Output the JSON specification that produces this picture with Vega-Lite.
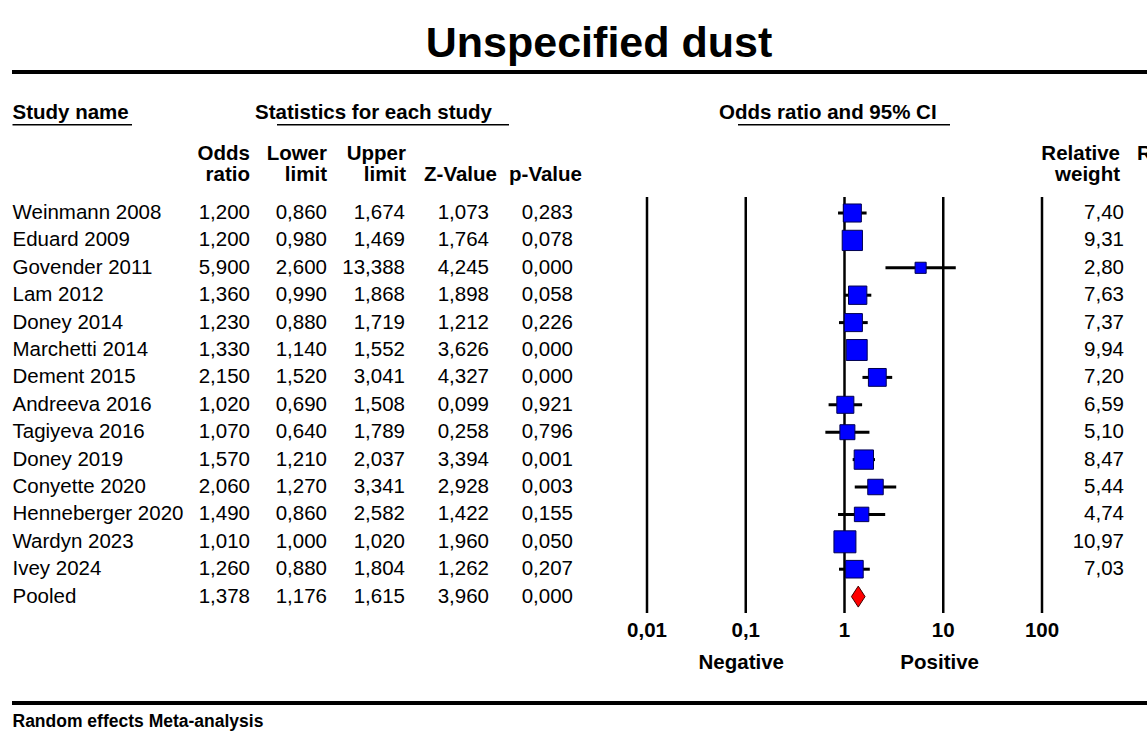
{
  "$schema": "https://vega.github.io/schema/vega-lite/v6.json",
  "width": 1147,
  "height": 731,
  "autosize": {"type": "none"},
  "padding": 0,
  "background": "white",
  "config": {
    "view": {"stroke": null},
    "locale": {"number": {"decimal": ",", "thousands": ".", "grouping": [3], "currency": ["", ""]}},
    "text": {"font": "Liberation Sans", "fontSize": 20.5, "color": "black"}
  },
  "datasets": {
    "studies": [
      {"study": "Weinmann 2008", "or": 1.200, "lo": 0.860, "hi": 1.674, "z": 1.073, "p": 0.283, "w": 7.40},
      {"study": "Eduard 2009", "or": 1.200, "lo": 0.980, "hi": 1.469, "z": 1.764, "p": 0.078, "w": 9.31},
      {"study": "Govender 2011", "or": 5.900, "lo": 2.600, "hi": 13.388, "z": 4.245, "p": 0.000, "w": 2.80},
      {"study": "Lam 2012", "or": 1.360, "lo": 0.990, "hi": 1.868, "z": 1.898, "p": 0.058, "w": 7.63},
      {"study": "Doney 2014", "or": 1.230, "lo": 0.880, "hi": 1.719, "z": 1.212, "p": 0.226, "w": 7.37},
      {"study": "Marchetti 2014", "or": 1.330, "lo": 1.140, "hi": 1.552, "z": 3.626, "p": 0.000, "w": 9.94},
      {"study": "Dement 2015", "or": 2.150, "lo": 1.520, "hi": 3.041, "z": 4.327, "p": 0.000, "w": 7.20},
      {"study": "Andreeva 2016", "or": 1.020, "lo": 0.690, "hi": 1.508, "z": 0.099, "p": 0.921, "w": 6.59},
      {"study": "Tagiyeva 2016", "or": 1.070, "lo": 0.640, "hi": 1.789, "z": 0.258, "p": 0.796, "w": 5.10},
      {"study": "Doney 2019", "or": 1.570, "lo": 1.210, "hi": 2.037, "z": 3.394, "p": 0.001, "w": 8.47},
      {"study": "Conyette 2020", "or": 2.060, "lo": 1.270, "hi": 3.341, "z": 2.928, "p": 0.003, "w": 5.44},
      {"study": "Henneberger 2020", "or": 1.490, "lo": 0.860, "hi": 2.582, "z": 1.422, "p": 0.155, "w": 4.74},
      {"study": "Wardyn 2023", "or": 1.010, "lo": 1.000, "hi": 1.020, "z": 1.960, "p": 0.050, "w": 10.97},
      {"study": "Ivey 2024", "or": 1.260, "lo": 0.880, "hi": 1.804, "z": 1.262, "p": 0.207, "w": 7.03},
      {"study": "Pooled", "or": 1.378, "lo": 1.176, "hi": 1.615, "z": 3.960, "p": 0.000, "w": null}
    ],
    "ticks": [{"v": 0.01}, {"v": 0.1}, {"v": 1}, {"v": 10}, {"v": 100}],
    "one": [{}]
  },
  "layer": [
    {
      "data": {"name": "ticks"},
      "mark": {"type": "rule", "strokeWidth": 2.5, "color": "black"},
      "encoding": {
        "x": {"field": "v", "type": "quantitative", "scale": {"type": "log", "domain": [0.01, 100], "range": [647, 1042]}, "axis": null},
        "y": {"datum": 0.416, "type": "quantitative", "scale": {"domain": [-6.774, 19.905], "reverse": true, "nice": false, "zero": false}, "axis": null},
        "y2": {"datum": 15.6}
      }
    },
    {
      "data": {"name": "ticks"},
      "mark": {"type": "text", "fontWeight": "bold", "align": "center", "baseline": "middle"},
      "encoding": {
        "x": {"field": "v", "type": "quantitative"},
        "y": {"datum": 16.255, "type": "quantitative"},
        "text": {"field": "v", "type": "quantitative", "format": "~g"}
      }
    },
    {
      "data": {"name": "studies"},
      "transform": [{"window": [{"op": "row_number", "as": "row"}]}],
      "layer": [
        {
          "transform": [{"filter": "datum.study !== 'Pooled'"}],
          "mark": {"type": "rule", "strokeWidth": 3, "color": "black"},
          "encoding": {
            "x": {"field": "lo", "type": "quantitative"},
            "x2": {"field": "hi"},
            "y": {"field": "row", "type": "quantitative"}
          }
        },
        {
          "transform": [{"filter": "datum.study !== 'Pooled'"}],
          "mark": {"type": "point", "shape": "square", "filled": true, "color": "#0000FF", "stroke": "#000050", "strokeWidth": 1, "opacity": 1},
          "encoding": {
            "x": {"field": "or", "type": "quantitative"},
            "y": {"field": "row", "type": "quantitative"},
            "size": {"field": "w", "type": "quantitative", "scale": {"type": "linear", "domain": [0, 11], "range": [0, 485]}, "legend": null}
          }
        },
        {
          "transform": [{"filter": "datum.study === 'Pooled'"}],
          "mark": {"type": "point", "shape": "M0,-1L0.65,0L0,1L-0.65,0Z", "filled": true, "color": "#FF0000", "stroke": "#400000", "strokeWidth": 1, "size": 441, "opacity": 1},
          "encoding": {
            "x": {"field": "or", "type": "quantitative"},
            "y": {"field": "row", "type": "quantitative"}
          }
        },
        {
          "mark": {"type": "text", "align": "left", "baseline": "middle"},
          "encoding": {"x": {"value": 12.5}, "y": {"field": "row", "type": "quantitative"}, "text": {"field": "study"}}
        },
        {
          "mark": {"type": "text", "align": "right", "baseline": "middle"},
          "encoding": {"x": {"value": 250}, "y": {"field": "row", "type": "quantitative"}, "text": {"field": "or", "type": "quantitative", "format": ".3f"}}
        },
        {
          "mark": {"type": "text", "align": "right", "baseline": "middle"},
          "encoding": {"x": {"value": 327}, "y": {"field": "row", "type": "quantitative"}, "text": {"field": "lo", "type": "quantitative", "format": ".3f"}}
        },
        {
          "mark": {"type": "text", "align": "right", "baseline": "middle"},
          "encoding": {"x": {"value": 405}, "y": {"field": "row", "type": "quantitative"}, "text": {"field": "hi", "type": "quantitative", "format": ".3f"}}
        },
        {
          "mark": {"type": "text", "align": "right", "baseline": "middle"},
          "encoding": {"x": {"value": 489}, "y": {"field": "row", "type": "quantitative"}, "text": {"field": "z", "type": "quantitative", "format": ".3f"}}
        },
        {
          "mark": {"type": "text", "align": "right", "baseline": "middle"},
          "encoding": {"x": {"value": 573}, "y": {"field": "row", "type": "quantitative"}, "text": {"field": "p", "type": "quantitative", "format": ".3f"}}
        },
        {
          "transform": [{"filter": "isValid(datum.w)"}],
          "mark": {"type": "text", "align": "right", "baseline": "middle"},
          "encoding": {"x": {"value": 1124}, "y": {"field": "row", "type": "quantitative"}, "text": {"field": "w", "type": "quantitative", "format": ".2f"}}
        }
      ]
    },
    {
      "data": {"name": "one"},
      "mark": {"type": "text", "fontSize": 43, "fontWeight": "bold", "align": "center", "baseline": "alphabetic"},
      "encoding": {"x": {"value": 599}, "y": {"datum": -4.693, "type": "quantitative"}, "text": {"value": "Unspecified dust"}}
    },
    {
      "data": {"name": "one"},
      "mark": {"type": "rule", "strokeWidth": 4, "color": "black"},
      "encoding": {"x": {"value": 12}, "x2": {"value": 1147}, "y": {"datum": -4.146, "type": "quantitative"}}
    },
    {
      "data": {"name": "one"},
      "mark": {"type": "rule", "strokeWidth": 4, "color": "black"},
      "encoding": {"x": {"value": 12}, "x2": {"value": 1147}, "y": {"datum": 18.883, "type": "quantitative"}}
    },
    {
      "data": {"name": "one"},
      "mark": {"type": "text", "fontWeight": "bold", "align": "left", "baseline": "alphabetic"},
      "encoding": {"x": {"value": 12.5}, "y": {"datum": -2.431, "type": "quantitative"}, "text": {"value": "Study name"}}
    },
    {
      "data": {"name": "one"},
      "mark": {"type": "text", "fontWeight": "bold", "align": "left", "baseline": "alphabetic"},
      "encoding": {"x": {"value": 255}, "y": {"datum": -2.431, "type": "quantitative"}, "text": {"value": "Statistics for each study"}}
    },
    {
      "data": {"name": "one"},
      "mark": {"type": "text", "fontWeight": "bold", "align": "left", "baseline": "alphabetic"},
      "encoding": {"x": {"value": 719}, "y": {"datum": -2.431, "type": "quantitative"}, "text": {"value": "Odds ratio and 95% CI"}}
    },
    {
      "data": {"name": "one"},
      "mark": {"type": "rule", "strokeWidth": 1.5, "color": "black"},
      "encoding": {"x": {"value": 12.5}, "x2": {"value": 132}, "y": {"datum": -2.22, "type": "quantitative"}}
    },
    {
      "data": {"name": "one"},
      "mark": {"type": "rule", "strokeWidth": 1.5, "color": "black"},
      "encoding": {"x": {"value": 277}, "x2": {"value": 509}, "y": {"datum": -2.22, "type": "quantitative"}}
    },
    {
      "data": {"name": "one"},
      "mark": {"type": "rule", "strokeWidth": 1.5, "color": "black"},
      "encoding": {"x": {"value": 738}, "x2": {"value": 950}, "y": {"datum": -2.22, "type": "quantitative"}}
    },
    {
      "data": {"name": "one"},
      "mark": {"type": "text", "fontWeight": "bold", "align": "right", "baseline": "alphabetic", "lineHeight": 21},
      "encoding": {"x": {"value": 250}, "y": {"datum": -0.934, "type": "quantitative"}, "text": {"value": ["Odds", "ratio"]}}
    },
    {
      "data": {"name": "one"},
      "mark": {"type": "text", "fontWeight": "bold", "align": "right", "baseline": "alphabetic", "lineHeight": 21},
      "encoding": {"x": {"value": 327}, "y": {"datum": -0.934, "type": "quantitative"}, "text": {"value": ["Lower", "limit"]}}
    },
    {
      "data": {"name": "one"},
      "mark": {"type": "text", "fontWeight": "bold", "align": "right", "baseline": "alphabetic", "lineHeight": 21},
      "encoding": {"x": {"value": 406}, "y": {"datum": -0.934, "type": "quantitative"}, "text": {"value": ["Upper", "limit"]}}
    },
    {
      "data": {"name": "one"},
      "mark": {"type": "text", "fontWeight": "bold", "align": "right", "baseline": "alphabetic"},
      "encoding": {"x": {"value": 497}, "y": {"datum": -0.168, "type": "quantitative"}, "text": {"value": "Z-Value"}}
    },
    {
      "data": {"name": "one"},
      "mark": {"type": "text", "fontWeight": "bold", "align": "right", "baseline": "alphabetic"},
      "encoding": {"x": {"value": 582}, "y": {"datum": -0.168, "type": "quantitative"}, "text": {"value": "p-Value"}}
    },
    {
      "data": {"name": "one"},
      "mark": {"type": "text", "fontWeight": "bold", "align": "right", "baseline": "alphabetic", "lineHeight": 21},
      "encoding": {"x": {"value": 1120}, "y": {"datum": -0.934, "type": "quantitative"}, "text": {"value": ["Relative", "weight"]}}
    },
    {
      "data": {"name": "one"},
      "mark": {"type": "text", "fontWeight": "bold", "align": "left", "baseline": "alphabetic"},
      "encoding": {"x": {"value": 1137}, "y": {"datum": -0.934, "type": "quantitative"}, "text": {"value": "Residual"}}
    },
    {
      "data": {"name": "one"},
      "mark": {"type": "text", "fontWeight": "bold", "align": "center", "baseline": "middle"},
      "encoding": {"x": {"datum": 0.09, "type": "quantitative"}, "y": {"datum": 17.423, "type": "quantitative"}, "text": {"value": "Negative"}}
    },
    {
      "data": {"name": "one"},
      "mark": {"type": "text", "fontWeight": "bold", "align": "center", "baseline": "middle"},
      "encoding": {"x": {"datum": 9.2, "type": "quantitative"}, "y": {"datum": 17.423, "type": "quantitative"}, "text": {"value": "Positive"}}
    },
    {
      "data": {"name": "one"},
      "mark": {"type": "text", "fontWeight": "bold", "fontSize": 17.5, "align": "left", "baseline": "alphabetic"},
      "encoding": {"x": {"value": 12.5}, "y": {"datum": 19.76, "type": "quantitative"}, "text": {"value": "Random effects Meta-analysis"}}
    }
  ]
}
